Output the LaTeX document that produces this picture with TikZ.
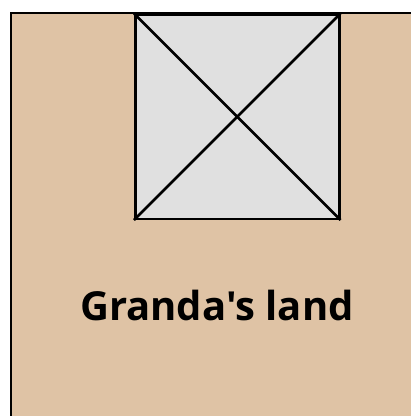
\documentclass[tikz,border=0pt]{standalone}
\usepackage{fontspec}
\setmainfont{Open Sans}[Ligatures=TeXOff]
\definecolor{land}{HTML}{DFC3A5}
\definecolor{house}{HTML}{E0E0E0}
\begin{document}
\begin{tikzpicture}[x=1pt,y=-1pt,line width=2.5pt,
  lbl/.style={font=\fontsize{40}{48}\selectfont\bfseries,inner sep=0pt}]
\useasboundingbox (0,0) rectangle (411,416);
\clip (0,0) rectangle (411,416);
\draw[fill=land] (11,13) rectangle (414,420);
\node[draw,fill=house,minimum width=204pt,minimum height=204pt,inner sep=0pt,anchor=north west] (h) at (134,13.5) {};
\draw (h.north west) -- (h.south east);
\draw (h.north east) -- (h.south west);
\node[lbl] (t) at (217,305) {Granda's land};
\end{tikzpicture}
\end{document}
